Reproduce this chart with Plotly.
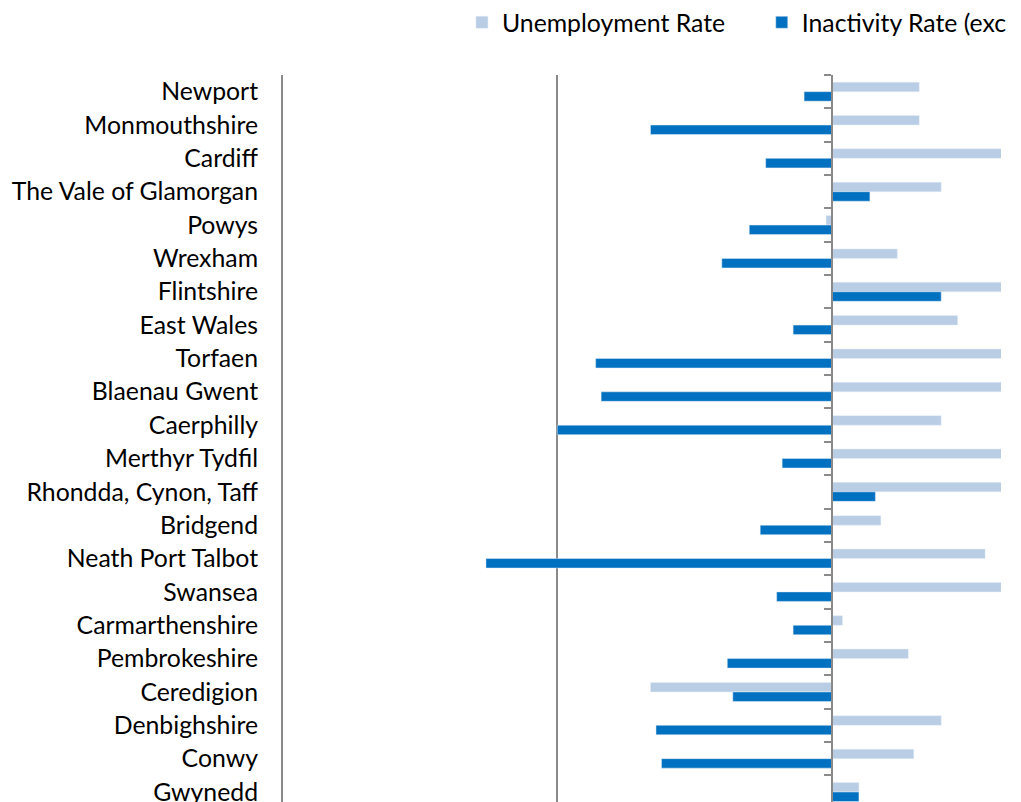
import plotly.graph_objects as go

regions = [
    "Newport", "Monmouthshire", "Cardiff", "The Vale of Glamorgan", "Powys",
    "Wrexham", "Flintshire", "East Wales", "Torfaen", "Blaenau Gwent",
    "Caerphilly", "Merthyr Tydfil", "Rhondda, Cynon, Taff", "Bridgend",
    "Neath Port Talbot", "Swansea", "Carmarthenshire", "Pembrokeshire",
    "Ceredigion", "Denbighshire", "Conwy", "Gwynedd",
]
unemployment = [1.6, 1.6, 3.4, 2.0, -0.1, 1.2, 3.3, 2.3, 4.0, 4.4, 2.0,
                3.8, 3.5, 0.9, 2.8, 3.2, 0.2, 1.4, -3.3, 2.0, 1.5, 0.5]
inactivity = [-0.5, -3.3, -1.2, 0.7, -1.5, -2.0, 2.0, -0.7, -4.3, -4.2, -5.0,
              -0.9, 0.8, -1.3, -6.3, -1.0, -0.7, -1.9, -1.8, -3.2, -3.1, 0.5]
series_names = ["Unemployment Rate", "Inactivity Rate (exc"]
x_tick_values = [-10, -5, 0]

X_MIN, X_MAX = -10, 3.09
FONT = "Lato"
GREY = "#8a8a8a"
LABEL_SIZE = 24.8
LEGEND_SIZE = 24.8

fig = go.Figure()
fig.add_trace(go.Bar(y=regions, x=unemployment, orientation="h",
                     name=series_names[0], marker=dict(color="#B9CDE5"),
                     legend="legend"))
fig.add_trace(go.Bar(y=regions, x=inactivity, orientation="h",
                     name=series_names[1], marker=dict(color="#0070C0"),
                     legend="legend2"))
# helper trace for the zero axis with boundary ticks
fig.add_trace(go.Scatter(y=regions, x=[0] * len(regions), yaxis="y2",
                         mode="markers", marker=dict(opacity=0),
                         showlegend=False, hoverinfo="skip"))

y_range = [21.3, -0.5]
legend_common = dict(orientation="h", xanchor="left", y=1.072, yanchor="middle",
                     font=dict(family=FONT, size=LEGEND_SIZE, color="#000000"),
                     bgcolor="rgba(0,0,0,0)", borderwidth=0)
# the page body adds an 8px offset, so the figure is 8px smaller than the window
fig.update_layout(
    width=1013, height=794,
    margin=dict(l=275, r=20, t=67, b=0, autoexpand=False),
    paper_bgcolor="white", plot_bgcolor="white",
    barmode="group", bargap=0.43, bargroupgap=0,
    font=dict(family=FONT, size=LABEL_SIZE, color="#000000"),
    legend=dict(x=0.2492, **legend_common),
    legend2=dict(x=0.6668, **legend_common),
    xaxis=dict(range=[X_MIN, X_MAX], tickvals=x_tick_values, showticklabels=False,
               showgrid=True, gridcolor=GREY, gridwidth=2, zeroline=False,
               showline=False, ticks=""),
    yaxis=dict(type="category", categoryorder="array", categoryarray=regions,
               range=y_range, showgrid=False, zeroline=False,
               showline=True, linecolor=GREY, linewidth=2,
               ticks="outside", ticklen=18, tickcolor="rgba(0,0,0,0)",
               tickfont=dict(family=FONT, size=LABEL_SIZE, color="#000000")),
    yaxis2=dict(type="category", categoryorder="array", categoryarray=regions,
                range=y_range, overlaying="y", anchor="free",
                position=(0 - X_MIN) / (X_MAX - X_MIN), side="left",
                showgrid=False, zeroline=False, showline=True, linecolor=GREY,
                linewidth=2, ticks="outside", ticklen=7, tickwidth=2,
                tickcolor=GREY, tickson="boundaries", showticklabels=False),
)

fig.write_html("out.html")
